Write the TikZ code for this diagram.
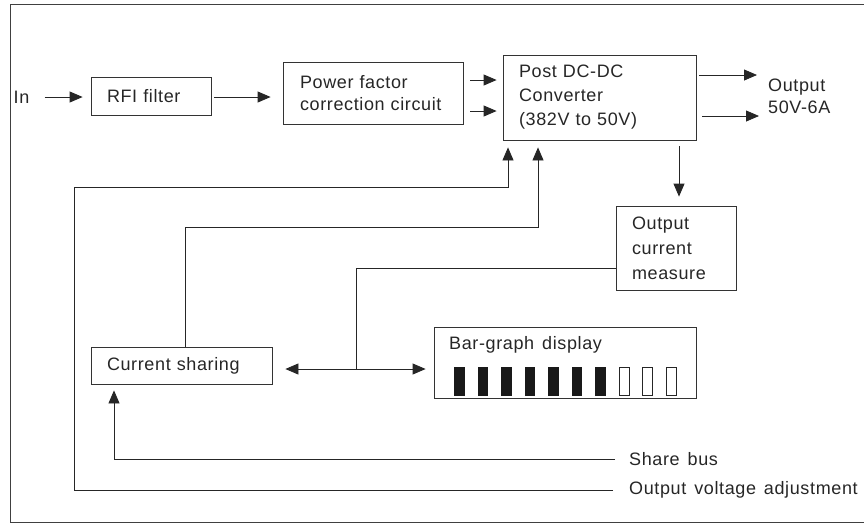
\documentclass[tikz,border=0pt]{standalone}
\usepackage{fontspec}
\setmainfont{Liberation Sans}[LetterSpace=3.5,WordSpace=1.4]
\usetikzlibrary{arrows.meta}
\begin{document}
\begin{tikzpicture}[x=1pt,y=-1pt,
  txt/.style={font=\fontsize{18}{24}\selectfont, text=black!85, inner sep=0pt},
  box/.style={draw=black!80, line width=0.8pt, txt, align=left},
  arr/.style={-{Triangle[length=13pt,width=11pt]}, line width=0.8pt, draw=black!85},
  darr/.style={{Triangle[length=13pt,width=11pt]}-{Triangle[length=13pt,width=11pt]}, line width=0.8pt, draw=black!85},
  ln/.style={line width=0.8pt, draw=black!85}]
\useasboundingbox (0,0) rectangle (864,523);
% frame
\draw[line width=1pt, black!75] (864,4) -- (10.5,4) -- (10.5,522) -- (864,522);
% boxes
\node[txt] (in) at (21.5,97) {In};
\node[box, minimum width=120pt, minimum height=38pt, text width=88pt] (rfi) at (151,96) {RFI filter};
\node[box, minimum width=180pt, minimum height=62pt, text width=146pt, font=\fontsize{18}{22}\selectfont] (pfc) at (373,93) {Power factor\\correction circuit};
\node[box, minimum width=193pt, minimum height=85pt, text width=161pt] (post) at (599.5,97.5) {Post DC-DC\\Converter\\(382V to 50V)};
\node[txt, anchor=west, align=left, font=\fontsize{18}{22}\selectfont] (out) at (768,96) {Output\\50V-6A};
\node[box, minimum width=120pt, minimum height=84pt, text width=88pt, font=\fontsize{18}{25}\selectfont] (ocm) at (676,248) {Output\\current\\measure};
\node[box, minimum width=181pt, minimum height=37pt, text width=149pt] (cs) at (181.5,365.5) {Current sharing};
\node[draw=black!80, line width=0.8pt, minimum width=262pt, minimum height=71pt, inner sep=0pt] (bar) at (565,362.5) {};
\node[txt, anchor=west] (bartxt) at (449,345) {Bar-graph display};
\node[txt, anchor=west] (sb) at (629,459) {Share bus};
\node[txt, anchor=west] (va) at (629,490) {Output voltage adjustment};
% bars
\foreach \i in {0,...,6} \fill[black!90] (454.3+23.5*\i,367) rectangle ++(10.5,29);
\foreach \i in {7,8,9} \draw[line width=0.8pt, black!85] (454.3+23.5*\i+0.4,367.4) rectangle ++(9.7,28.2);
% coordinates
\coordinate (lx) at (74,187);
\coordinate (cy) at (538,227);
\coordinate (jn) at (356,369);
% connectors
\draw[arr] ([xshift=15pt]in.east) -- ([xshift=-8pt]in.east -| rfi.west);
\draw[arr] ([xshift=3pt,yshift=-1pt]rfi.east) -- ([xshift=-12pt,yshift=-1pt]rfi.east -| pfc.west);
\draw[arr] ([xshift=7pt,yshift=13pt]pfc.east) -- ([xshift=-6pt,yshift=13pt]pfc.east -| post.west);
\draw[arr] ([xshift=7pt,yshift=-18pt]pfc.east) -- ([xshift=-6pt,yshift=-18pt]pfc.east -| post.west);
\draw[arr] ([xshift=3pt,yshift=22.5pt]post.east) -- ([xshift=-11pt,yshift=22.5pt]post.east -| out.west);
\draw[arr] ([xshift=6pt,yshift=-18.5pt]post.east) -- ([xshift=-9pt,yshift=-18.5pt]post.east -| out.west);
\draw[arr] ([xshift=3pt,yshift=-6pt]ocm.north |- post.south) -- ([xshift=3pt,yshift=9pt]ocm.north);
\draw[arr] ([xshift=-16pt]va.west) -| (lx) -| ([xshift=-91.5pt,yshift=-7pt]post.south);
\draw[arr] ([xshift=3.5pt]cs.north) |- (cy) -- ([xshift=-61.5pt,yshift=-7pt]post.south);
\draw[ln] ([yshift=-20pt]ocm.west) -| (jn);
\draw[darr] ([xshift=13pt]cs.east |- jn) -- ([xshift=-8pt]bar.west |- jn);
\draw[arr] ([xshift=-14pt]sb.west) -| ([xshift=-67.5pt,yshift=-6pt]cs.south);
\end{tikzpicture}
\end{document}
